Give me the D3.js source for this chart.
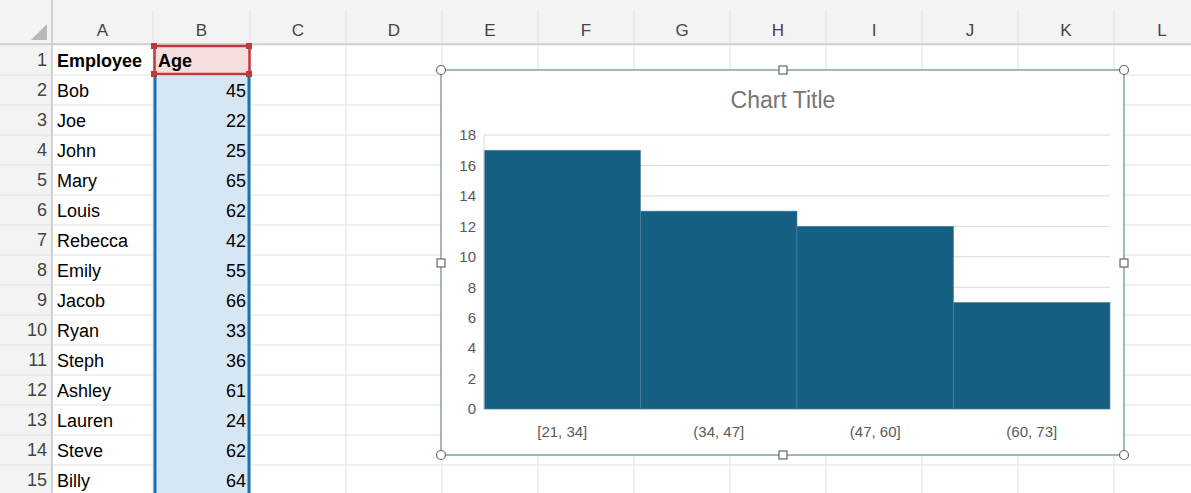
<!DOCTYPE html><html><head><meta charset="utf-8"><script src="https://cdn.jsdelivr.net/npm/d3@7"></script>
<style>body{margin:0;background:#fff}svg{display:block}</style></head><body><svg id="s" width="1191" height="493"></svg>
<script>
const employees=["Bob","Joe","John","Mary","Louis","Rebecca","Emily","Jacob","Ryan","Steph","Ashley","Lauren","Steve","Billy"];
const ages=[45,22,25,65,62,42,55,66,33,36,61,24,62,64];
const columns=["A","B","C","D","E","F","G","H","I","J","K","L"];
const bins=["[21, 34]","(34, 47]","(47, 60]","(60, 73]"];
const counts=[17,13,12,7];
const yTicks=[0,2,4,6,8,10,12,14,16,18];

const svg=d3.select("#s");
const F="Aptos, 'Liberation Sans', Arial, sans-serif";
const colEdges=[52,153,250,346,442,538,634,730,826,922,1018,1114,1210];
const hdrH=44,rowH=30;
svg.append("rect").attr("width",1191).attr("height",hdrH).attr("fill","#f3f3f3");
svg.append("rect").attr("y",hdrH).attr("width",52).attr("height",493).attr("fill","#f3f3f3");
// grid
for(let i=0;i<colEdges.length;i++){svg.append("line").attr("x1",colEdges[i]).attr("x2",colEdges[i]).attr("y1",i==0?0:10).attr("y2",493).attr("stroke","#e1e1e1");}
for(let r=0;r<=15;r++){const y=hdrH+1+r*rowH;svg.append("line").attr("x1",0).attr("x2",1191).attr("y1",y).attr("y2",y).attr("stroke","#e1e1e1");}
svg.append("line").attr("x1",0).attr("x2",1191).attr("y1",hdrH).attr("y2",hdrH).attr("stroke","#c8c8c8").attr("stroke-width",1.5);
svg.append("line").attr("x1",52).attr("x2",52).attr("y1",0).attr("y2",493).attr("stroke","#c8c8c8").attr("stroke-width",1.5);
svg.append("path").attr("d","M47,24 L47,40 L31,40Z").attr("fill","#b8b8b8");
columns.forEach((c,i)=>svg.append("text").attr("x",(colEdges[i]+colEdges[i+1])/2).attr("y",36).attr("text-anchor","middle").attr("font-family",F).attr("font-size",17).attr("fill","#444").text(c));
// selection
svg.append("rect").attr("x",154).attr("y",76).attr("width",96).attr("height",417).attr("fill","#d6e7f3");
svg.append("rect").attr("x",154).attr("y",46).attr("width",96).attr("height",28).attr("fill","#f6dede");
svg.append("rect").attr("x",154.5).attr("y",46).attr("width",95).attr("height",28).attr("fill","none").attr("stroke","#c0383f").attr("stroke-width",2.5);
[[154,46],[249,46],[154,74],[249,74]].forEach(p=>svg.append("rect").attr("x",p[0]-3).attr("y",p[1]-3).attr("width",6).attr("height",6).attr("fill","#c0383f"));
svg.append("line").attr("x1",155).attr("x2",155).attr("y1",77).attr("y2",493).attr("stroke","#1a6fb5").attr("stroke-width",3);
svg.append("line").attr("x1",249).attr("x2",249).attr("y1",77).attr("y2",493).attr("stroke","#1a6fb5").attr("stroke-width",3);
// rows
for(let r=1;r<=15;r++){const y=hdrH+r*rowH-8;svg.append("text").attr("x",47).attr("y",y).attr("text-anchor","end").attr("font-family",F).attr("font-size",18).attr("fill","#444").text(r);}
svg.append("text").attr("x",57).attr("y",67).attr("font-family",F).attr("font-size",18).attr("font-weight","bold").text("Employee");
svg.append("text").attr("x",158).attr("y",67).attr("font-family",F).attr("font-size",18).attr("font-weight","bold").text("Age");
employees.forEach((e,i)=>{const y=hdrH+(i+2)*rowH-7;
svg.append("text").attr("x",57).attr("y",y).attr("font-family",F).attr("font-size",18).text(e);
svg.append("text").attr("x",246).attr("y",y).attr("text-anchor","end").attr("font-family",F).attr("font-size",18).text(ages[i]);});
// chart
svg.append("rect").attr("x",441).attr("y",70).attr("width",683).attr("height",385).attr("fill","#fff").attr("stroke","#3f7f5a").attr("stroke-width",1);
const x=d3.scaleBand().domain(bins).range([484,1110]).padding(0);
const y=d3.scaleLinear().domain([0,18]).range([409,135]);
const g=svg.append("g");
g.selectAll("line.gl").data(yTicks).join("line").attr("x1",484).attr("x2",1110).attr("y1",d=>y(d)).attr("y2",d=>y(d)).attr("stroke","#d9d9d9");
g.selectAll("rect.b").data(counts).join("rect").attr("x",(d,i)=>x(bins[i])).attr("width",x.bandwidth()).attr("y",d=>y(d)).attr("height",d=>y(0)-y(d)).attr("fill","#156082").attr("stroke","#4a86a3").attr("stroke-width",0.6);
g.append("line").attr("x1",484).attr("x2",484).attr("y1",135).attr("y2",409).attr("stroke","#d9d9d9");
const ya=svg.append("g").attr("transform","translate(476,0)").call(d3.axisLeft(y).tickValues(yTicks).tickSize(0).tickPadding(0));
ya.select(".domain").remove();
ya.selectAll("text").attr("font-family",F).attr("font-size",15).attr("fill","#595959");
const xa=svg.append("g").attr("transform","translate(0,409)").call(d3.axisBottom(x).tickSize(0).tickPadding(17));
xa.select(".domain").remove();
xa.selectAll("text").attr("font-family",F).attr("font-size",15).attr("fill","#595959");
svg.append("text").attr("x",783).attr("y",108).attr("text-anchor","middle").attr("font-family",F).attr("font-size",23).attr("fill","#757575").text("Chart Title");
// handles
[[441,70],[1124,70],[441,455],[1124,455]].forEach(p=>svg.append("circle").attr("cx",p[0]).attr("cy",p[1]).attr("r",4.5).attr("fill","#fff").attr("stroke","#666").attr("stroke-width",1.2));
[[783,70],[783,455],[441,263],[1124,263]].forEach(p=>svg.append("rect").attr("x",p[0]-4).attr("y",p[1]-4).attr("width",8).attr("height",8).attr("fill","#fff").attr("stroke","#666").attr("stroke-width",1.2));
</script></body></html>
